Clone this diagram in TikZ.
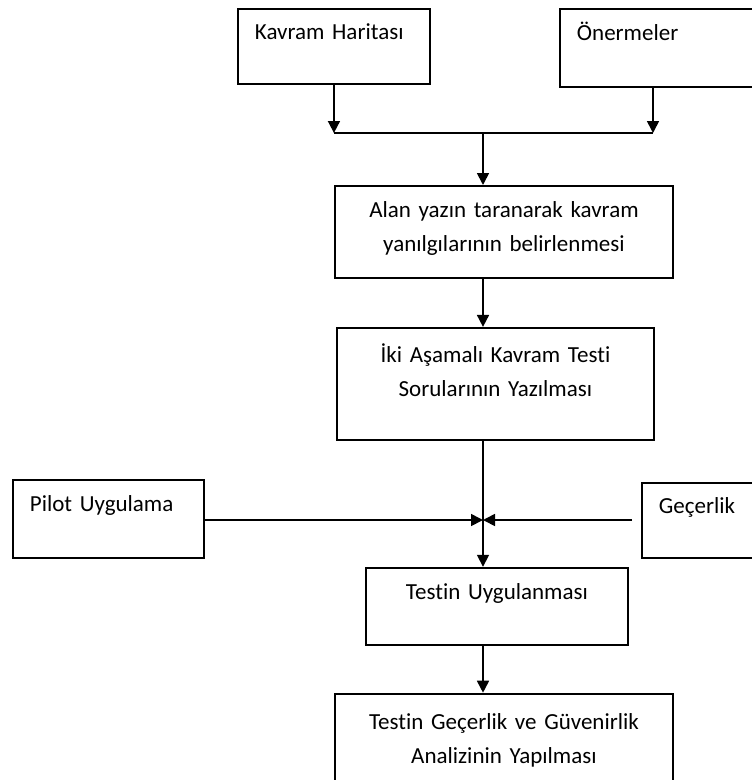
\documentclass[tikz,border=0pt]{standalone}
\usepackage{fontspec}
\setmainfont{Carlito}[Ligatures=CommonOff]
\usetikzlibrary{positioning,arrows.meta}

\begin{document}
\begin{tikzpicture}[x=1pt,y=-1pt,
  font=\fontsize{23}{34}\selectfont,
  box/.style={draw, rectangle, line width=1.9pt, inner ysep=0pt},
  leftbox/.style={box, align=left, inner xsep=17pt},
  midbox/.style={box, align=center, inner xsep=0pt},
  arr/.style={line width=1.7pt, -{Triangle[length=12pt,width=12pt]}}]

\clip (0,0) rectangle (752,780);

% Top row
\node[leftbox,
    anchor=north west,
    text width=158pt,
    text height=31pt,
    text depth=44pt] (harita) at (237,8) {Kavram Haritası};

\node[leftbox,
    anchor=north west,
    text width=177pt,
    text height=32pt,
    text depth=46pt] (oner) at (559,8) {Önermeler};

% Main column
\node[midbox,
    anchor=north west,
    text width=338pt,
    text height=32pt,
    text depth=60pt] (alan) at (334,185) {Alan yazın taranarak kavram\\ yanılgılarının belirlenmesi};

\node[midbox,
    below=48pt of alan.south,
    xshift=-8.5pt,
    text width=317pt,
    text height=35pt,
    text depth=77pt] (iki) {İki Aşamalı Kavram Testi\\ Sorularının Yazılması};

\node[midbox,
    below=126pt of iki.south,
    xshift=1.5pt,
    text width=262pt,
    text height=32pt,
    text depth=45pt] (uygula) {Testin Uygulanması};

\node[midbox,
    below=47pt of uygula.south,
    xshift=7pt,
    text width=338pt,
    text height=36pt,
    text depth=100pt] (analiz) {Testin Geçerlik ve Güvenirlik\\ Analizinin Yapılması};

% Side boxes
\node[leftbox,
    anchor=north west,
    text width=157pt,
    text height=32pt,
    text depth=46pt] (pilot) at (12,479) {Pilot Uygulama};

\node[leftbox,
    anchor=north west,
    text width=95pt,
    text height=31pt,
    text depth=44pt] (gecer) at (641,482) {Geçerlik};

% Junctions
\coordinate (merge) at (483,133);
\coordinate (spine) at (483,0);
\coordinate (side) at (0,520);
\coordinate (oner-out) at ([xshift=94pt]oner.south west);

% Arrows
\draw[arr] (harita.south) -- (harita.south |- merge);
\draw[arr] (oner-out) -- (oner-out |- merge);
\draw[line width=1.7pt] (harita.south |- merge) -- (oner-out |- merge);
\draw[arr] (merge) -- (merge |- alan.north);
\draw[arr] (spine |- alan.south) -- (spine |- iki.north);
\draw[arr] (spine |- iki.south) -- (spine |- uygula.north);
\draw[arr] (pilot.east |- side) -- (spine |- side);
\draw[arr, shorten <=9pt] (gecer.west |- side) -- (spine |- side);
\draw[arr] (spine |- uygula.south) -- (spine |- analiz.north);

\end{tikzpicture}
\end{document}
